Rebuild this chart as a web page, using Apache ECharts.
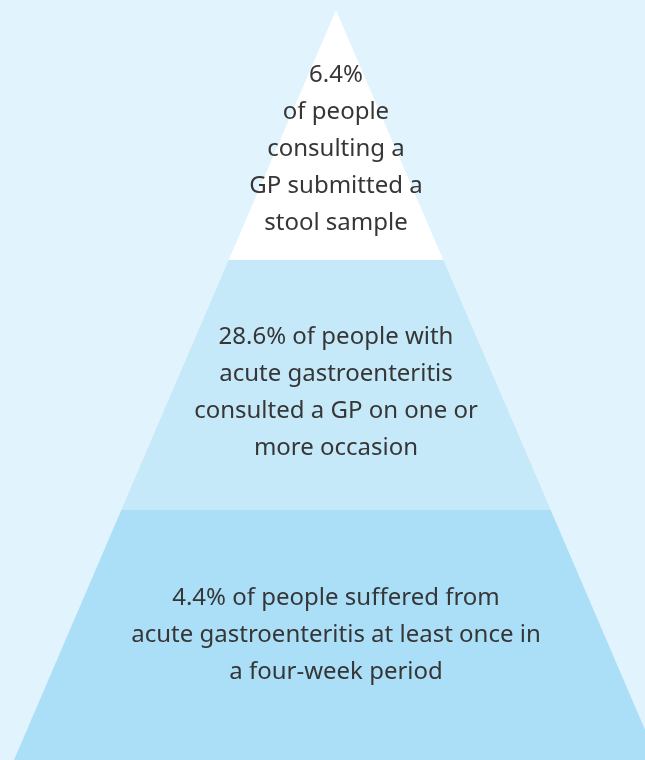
<!DOCTYPE html>
<html>
<head>
<meta charset="utf-8">
<script src="https://cdn.jsdelivr.net/npm/echarts@6/dist/echarts.min.js"></script>
<style>
html,body{margin:0;padding:0;background:#e1f3fc;}
#chart{width:645px;height:760px;}
</style>
</head>
<body>
<div id="chart"></div>
<script>
// Pyramid tiers, top to bottom
const tierLabels = [
  "6.4%\nof people\nconsulting a\nGP submitted a\nstool sample",
  "28.6% of people with\nacute gastroenteritis\nconsulted a GP on one or\nmore occasion",
  "4.4% of people suffered from\nacute gastroenteritis at least once in\na four-week period"
];
// Tier rank (1 = apex tier, 3 = base tier)
const tierRank = [1, 2, 3];
const tierColors = ["#ffffff", "#c6e9f9", "#aadff7"];
const spacerStyle = ["sa", "sb", ""];

const chart = echarts.init(document.getElementById('chart'), null, {renderer: 'canvas'});
chart.setOption({
  backgroundColor: '#e1f3fc',
  animation: false,
  series: [{
    type: 'funnel',
    sort: 'ascending',
    left: 14,
    top: 10,
    width: 644,
    height: 750,
    min: 0,
    max: 3,
    minSize: '0%',
    maxSize: '100%',
    gap: 0,
    funnelAlign: 'center',
    silent: true,
    itemStyle: {borderWidth: 0},
    emphasis: {disabled: true},
    label: {
      show: true,
      position: 'inside',
      color: '#363636',
      fontFamily: 'Noto Sans',
      fontSize: 24,
      lineHeight: 37,
      align: 'center',
      formatter: p => {
        const s = spacerStyle[p.dataIndex];
        return (s ? '{' + s + '| }\n' : '') + p.name;
      },
      rich: {
        sa: {fontSize: 4, lineHeight: 28},
        sb: {fontSize: 4, lineHeight: 16}
      }
    },
    labelLine: {show: false},
    data: tierRank.map((v, i) => ({
      name: tierLabels[i],
      value: v,
      itemStyle: {color: tierColors[i]}
    }))
  }]
});
</script>
</body>
</html>
